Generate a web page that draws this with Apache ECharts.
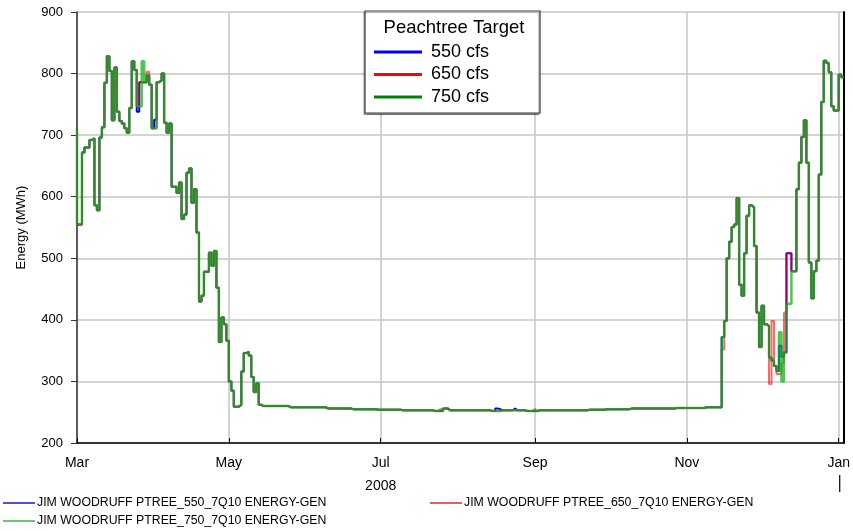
<!DOCTYPE html>
<html>
<head>
<meta charset="utf-8">
<script src="https://cdn.jsdelivr.net/npm/echarts@6/dist/echarts.min.js"></script>
<style>
  html, body { margin: 0; padding: 0; background: #fff; }
  #chart { width: 853px; height: 531px; }
</style>
</head>
<body>
<div id="chart"></div>
<script>
// Jim Woodruff daily energy generation, three Peachtree flow targets, Mar 2008 - Jan 2009
const seriesNames = [
  'JIM WOODRUFF PTREE_550_7Q10 ENERGY-GEN',
  'JIM WOODRUFF PTREE_650_7Q10 ENERGY-GEN',
  'JIM WOODRUFF PTREE_750_7Q10 ENERGY-GEN'
];
const targetLabels = ['550 cfs', '650 cfs', '750 cfs'];
const monthTickDates = ['2008-03-01', '2008-05-01', '2008-07-01', '2008-09-01', '2008-11-01', '2009-01-01'];
const monthTickLabels = ['Mar', 'May', 'Jul', 'Sep', 'Nov', 'Jan'];
const periodStart = '2008-03-01';
const periodDays = 308;          // last day shown: 3 Jan 2009
const openingMWh = 709;          // value carried in from the previous day

// 750 cfs run: [day offset from 1 Mar 2008, MWh], held until the next change
const gen750 = [
  [0,555],[2,672],[3,680],[5,692],[6,695],[7,586],[8,578],[9,696],[10,713],[11,785],
  [12,828],[13,804],[14,724],[15,810],[16,738],[17,723],[18,719],[19,711],[20,704],[21,744],
  [22,820],[23,806],[24,747],[26,820],[27,786],[28,797],[29,782],[30,711],[32,786],[33,789],
  [34,800],[35,720],[36,704],[37,719],[38,616],[40,606],[41,623],[42,564],[43,571],[44,639],
  [45,646],[46,590],[47,612],[48,542],[49,430],[50,439],[51,478],[53,509],[54,488],[55,512],
  [56,452],[57,364],[58,404],[59,393],[60,366],[61,300],[62,285],[63,259],[65,262],[66,316],
  [67,346],[68,348],[69,342],[70,307],[71,283],[72,297],[73,262],[74,260],[85,258],[100,256],
  [110,255],[120,254],[130,253],[143,252],[147,256],[149,253],[166,252],[170,253],[180,252],[185,253],
  [205,254],[212,255],[222,256],[240,257],[252,258],[259,372],[260,398],[261,500],[262,527],[263,551],
  [264,555],[265,598],[266,457],[267,439],[268,508],[269,569],[270,586],[271,583],[272,520],[273,412],
  [274,356],[275,423],[276,393],[277,390],[278,339],[279,334],[280,325],[281,317],[282,380],[283,300],
  [284,347],[285,426],[287,479],[289,612],[290,655],[291,697],[292,724],[293,655],[294,493],[295,435],
  [296,479],[297,496],[298,636],[299,754],[300,821],[301,817],[302,802],[303,747],[304,740],[306,798],
  [307,794]
];
// Days where the 550 cfs run differs from the 750 cfs run: [day, MWh]
const diff550 = [
  [24,738],[25,786],[26,786],[31,725],[168,256],[169,255],[175,256],
  [282,358],[283,340],[285,508],[286,508]
];
// Days where the 650 cfs run differs from the 750 cfs run: [day, MWh]
const diff650 = [
  [25,786],[26,786],[28,803],[145,255],[146,255],[183,255],
  [259,352],[278,296],[279,398],[281,312],[282,312],[283,330],[284,412],[285,508],[286,508]
];

const DAY_MS = 86400000;
function parseDay(s) {
  const [y, m, d] = s.split('-').map(Number);
  return Date.UTC(y, m - 1, d);
}
// day offset from the start of the period
function dayOffset(s) {
  return Math.round((parseDay(s) - parseDay(periodStart)) / DAY_MS);
}
function dailyFrom(changes) {
  const out = new Array(periodDays).fill(null);
  let k = 0, cur = changes[0][1];
  for (let i = 0; i < periodDays; i++) {
    while (k < changes.length && changes[k][0] <= i) { cur = changes[k][1]; k++; }
    out[i] = cur;
  }
  return out;
}
function withDiffs(base, diffs) {
  const out = base.slice();
  diffs.forEach(([d, v]) => { out[d] = v; });
  return out;
}
function toSeriesData(daily) {
  const pts = [[0, openingMWh]];
  daily.forEach((v, i) => pts.push([i, v]));
  pts.push([periodDays, daily[periodDays - 1]]);
  return pts;
}

const daily750 = dailyFrom(gen750);
const daily550 = withDiffs(daily750, diff550);
const daily650 = withDiffs(daily750, diff650);

const FONT = "'Liberation Sans', Arial, sans-serif";
const tickDays = monthTickDates.map(dayOffset);
const lineColors = ['#0000ff', '#ff0000', '#19b019'];
const topKeyColors = ['#0000ff', '#ff0000', '#008000'];
const bottomKeyColors = ['#2626cc', '#e23434', '#3fc03f'];

const chart = echarts.init(document.getElementById('chart'), null, { renderer: 'canvas' });

function bottomLegend(idx, left, top) {
  return {
    show: true, orient: 'horizontal', left: left, top: top, padding: 0,
    icon: 'rect', itemWidth: 32, itemHeight: 1.6, itemGap: 0, selectedMode: false,
    data: [{ name: seriesNames[idx], itemStyle: { color: bottomKeyColors[idx], opacity: 1 } }],
    textStyle: { fontSize: 12.3, color: '#000', fontFamily: FONT, padding: [0, 0, 0, -3] }
  };
}

const option = {
  animation: false,
  backgroundColor: '#fff',
  grid: { left: 77, right: 7, top: 12, bottom: 88, containLabel: false },
  xAxis: {
    type: 'value',
    min: 0,
    max: periodDays,
    axisLine: { show: true, onZero: false, lineStyle: { color: '#000', width: 1.5 } },
    axisTick: { show: true, inside: true, length: 5, customValues: tickDays, lineStyle: { color: '#000', width: 1 } },
    axisLabel: {
      customValues: tickDays,
      formatter: v => monthTickLabels[tickDays.indexOf(v)] || '',
      margin: 13, fontSize: 14, color: '#000', fontFamily: FONT
    },
    splitLine: { show: true, lineStyle: { color: '#c6c6c6', width: 1.5 } }
  },
  yAxis: [{
    type: 'value', min: 200, max: 900, interval: 100,
    name: 'Energy (MWh)', nameLocation: 'middle', nameGap: 49, nameRotate: 90,
    nameTextStyle: { fontSize: 13, color: '#000', fontFamily: FONT },
    axisLine: { show: true, lineStyle: { color: '#333', width: 1.5 } },
    axisTick: { show: true, inside: false, length: 6, lineStyle: { color: '#333' } },
    axisLabel: { margin: 14, fontSize: 13, color: '#000', fontFamily: FONT },
    splitLine: { show: true, lineStyle: { color: '#c6c6c6', width: 1.5 } }
  }, {
    type: 'value', min: 200, max: 900, interval: 100, position: 'right',
    axisLine: { show: true, onZero: false, lineStyle: { color: '#000', width: 2 } },
    axisTick: { show: false }, axisLabel: { show: false }, splitLine: { show: false }
  }],
  legend: [
    {
      show: true, orient: 'vertical', left: 374, top: 43, padding: 0,
      icon: 'rect', itemWidth: 48, itemHeight: 3, itemGap: 4.5, selectedMode: false, z: 6,
      data: seriesNames.map((n, i) => ({ name: n, itemStyle: { color: topKeyColors[i], opacity: 1 } })),
      formatter: name => targetLabels[seriesNames.indexOf(name)],
      textStyle: { fontSize: 18, lineHeight: 18, color: '#000', fontFamily: FONT, padding: [0, 0, 0, 4] }
    },
    bottomLegend(0, 3, 497),
    bottomLegend(1, 430, 497),
    bottomLegend(2, 3, 515)
  ],
  series: [
    { name: seriesNames[0], type: 'line', step: 'end', symbol: 'none', z: 2,
      color: lineColors[0], lineStyle: { color: lineColors[0], width: 2 },
      data: toSeriesData(daily550) },
    { name: seriesNames[1], type: 'line', step: 'end', symbol: 'none', z: 2,
      color: lineColors[1], lineStyle: { color: lineColors[1], width: 2, opacity: 0.6 },
      data: toSeriesData(daily650) },
    { name: seriesNames[2], type: 'line', step: 'end', symbol: 'none', z: 2,
      color: lineColors[2], lineStyle: { color: lineColors[2], width: 2.5, opacity: 0.75 },
      data: toSeriesData(daily750) }
  ]
};

chart.setOption(option);

// Key frame and title, year caption under the Jul tick, year-boundary mark under Jan
const julX = chart.convertToPixel({ xAxisIndex: 0 }, dayOffset('2008-07-01'));
const janX = chart.convertToPixel({ xAxisIndex: 0 }, dayOffset('2009-01-01'));
chart.setOption({
  graphic: [
    {
      type: 'rect', z: 5,
      shape: { x: 365, y: 11, width: 175, height: 102 },
      style: { fill: '#fff', stroke: '#3a3a3a', lineWidth: 1.2,
               shadowColor: 'rgba(0,0,0,0.35)', shadowOffsetX: -1, shadowOffsetY: 1.5, shadowBlur: 1 }
    },
    {
      type: 'text', z: 6, x: 454, y: 28,
      style: { text: 'Peachtree Target', fontSize: 18.5, fontFamily: FONT, fill: '#000',
               align: 'center', verticalAlign: 'middle' }
    },
    { type: 'text', x: julX, y: 486,
      style: { text: '2008', fontSize: 14, fontFamily: FONT, fill: '#000', align: 'center', verticalAlign: 'middle' } },
    { type: 'line', shape: { x1: janX + 1, y1: 475, x2: janX + 1, y2: 492 },
      style: { stroke: '#000', lineWidth: 1.2 } }
  ]
});
</script>
</body>
</html>
